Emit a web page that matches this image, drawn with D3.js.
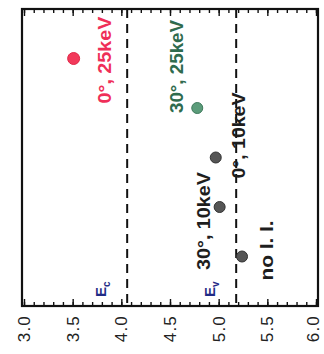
<!DOCTYPE html>
<html>
<head>
<meta charset="utf-8">
<script src="https://cdn.jsdelivr.net/npm/d3@7"></script>
<style>
  html, body { margin: 0; padding: 0; background: #fff; }
  svg { display: block; }
  text { font-family: "Liberation Sans", Arial, sans-serif; }
</style>
</head>
<body>
<svg id="chart" width="324" height="354"></svg>
<script>
// Samples (implant angle / energy) and their measured energy levels (eV)
const samples = ["0°, 25keV", "30°, 25keV", "0°, 10keV", "30°, 10keV", "no I. I."];
const levels = [3.51, 4.78, 4.97, 5.01, 5.24];
const sampleGroup = ["red", "green", "gray", "gray", "gray"];

// Band edges drawn as dashed reference lines
const bandNames = ["c", "v"];
const bandValues = [4.06, 5.18];

// Energy axis tick labels
const tickValues = [3.0, 3.5, 4.0, 4.5, 5.0, 5.5, 6.0];

// ---- styling / layout ----
const fill = { red: "#f2395a", green: "#5b9c7a", gray: "#555555" };
const stroke = { red: "#e02848", green: "#3f7a5c", gray: "#333333" };
const labelColor = { red: "#ef2f58", green: "#2f6b4e", gray: "#1e1e1e" };
// label offsets from each point: baseline x shift, start y shift, length
const labelLayout = [
  { dx: 37, dy: 45, len: 87 },
  { dx: -14, dy: 5, len: 93 },
  { dx: 29, dy: 21, len: 86 },
  { dx: -10, dy: 63, len: 98 },
  { dx: 31, dy: 24, len: 60 }
];

const svg = d3.select("#chart");
const plotL = 22, plotR = 318, plotT = 9, plotB = 306;
const W = 324;

const x = d3.scaleLinear().domain([3.0, 6.0]).range([plotL + 2, plotR - 2]);
const y = d3.scalePoint().domain(samples).range([plotT, plotB]).padding(1);

const minorTicks = d3.range(30, 61).map(d => d / 10);

// ticks on bottom and top edges, pointing inward
const axisMinorB = d3.axisBottom(x).tickValues(minorTicks).tickSize(-4).tickFormat("");
const axisMinorT = d3.axisTop(x).tickValues(minorTicks).tickSize(-4).tickFormat("");
const axisMajorB = d3.axisBottom(x).tickValues(tickValues).tickSize(-7).tickFormat("");
const axisMajorT = d3.axisTop(x).tickValues(tickValues).tickSize(-7).tickFormat("");

[[axisMinorB, plotB], [axisMajorB, plotB], [axisMinorT, plotT], [axisMajorT, plotT]].forEach(([ax, yy]) => {
  const g = svg.append("g").attr("transform", `translate(0,${yy})`).call(ax);
  g.select(".domain").remove();
  g.selectAll(".tick line").attr("stroke", "#111").attr("stroke-width", 1.4);
});

// frame
svg.append("rect")
  .attr("x", plotL).attr("y", plotT)
  .attr("width", plotR - plotL).attr("height", plotB - plotT)
  .attr("fill", "none").attr("stroke", "#111").attr("stroke-width", 2.2);

// tick labels, rotated; the last one is kept inside the page edge
svg.append("g").selectAll("text").data(tickValues).join("text")
  .attr("transform", d => `translate(${Math.min(x(d), W - 11)},${plotB + 9}) rotate(-90)`)
  .attr("text-anchor", "end")
  .attr("dy", "0.36em")
  .attr("font-size", 17)
  .attr("letter-spacing", 1.2)
  .attr("fill", "#222")
  .text(d => d.toFixed(1));

// band edge dashed lines
svg.append("g").selectAll("line").data(bandValues).join("line")
  .attr("x1", d => x(d)).attr("x2", d => x(d))
  .attr("y1", plotT).attr("y2", plotB)
  .attr("stroke", "#111").attr("stroke-width", 2)
  .attr("stroke-dasharray", "9,6");

// band edge labels E_c / E_v
const bandLabel = svg.append("g").selectAll("text").data(bandNames).join("text")
  .attr("transform", (d, i) => `translate(${x(bandValues[i]) - 21},${plotB - 9}) rotate(-90)`)
  .attr("font-size", 15)
  .attr("font-weight", "bold")
  .attr("fill", "#1f2b86");
bandLabel.append("tspan").text("E");
bandLabel.append("tspan").attr("font-size", 10).attr("dy", 4).text(d => d);

// data points
svg.append("g").selectAll("circle").data(levels).join("circle")
  .attr("cx", d => x(d))
  .attr("cy", (d, i) => y(samples[i]))
  .attr("r", (d, i) => i === 0 ? 6 : 5.5)
  .attr("fill", (d, i) => fill[sampleGroup[i]])
  .attr("stroke", (d, i) => stroke[sampleGroup[i]])
  .attr("stroke-width", 1);

// sample labels, rotated
svg.append("g").selectAll("text").data(samples).join("text")
  .attr("transform", (d, i) => {
    const L = labelLayout[i];
    return `translate(${x(levels[i]) + L.dx},${y(d) + L.dy}) rotate(-90)`;
  })
  .attr("font-size", 18)
  .attr("font-weight", "bold")
  .attr("textLength", (d, i) => labelLayout[i].len)
  .attr("lengthAdjust", "spacingAndGlyphs")
  .attr("fill", (d, i) => labelColor[sampleGroup[i]])
  .text(d => d);
</script>
</body>
</html>
